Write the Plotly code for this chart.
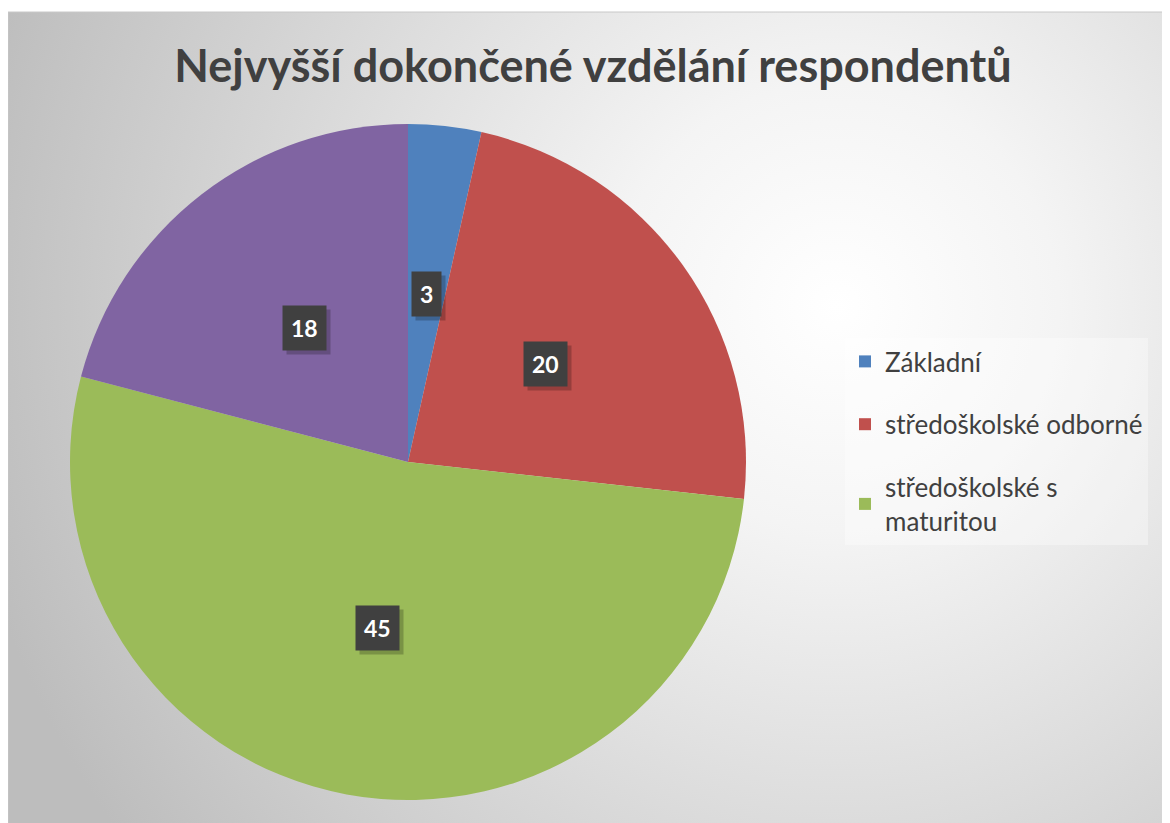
import math
import plotly.graph_objects as go

# Data
categories = ["Základní", "středoškolské odborné", "středoškolské s maturitou", "vysokoškolské"]
values = [3, 20, 45, 18]
legend_labels = ["Základní", "středoškolské odborné", "středoškolské s<br>maturitou"]
colors = ["#4F81BD", "#C0504D", "#9BBB59", "#8064A2"]

# page has an 8px body margin, so the figure is 8px smaller and offset
OFF = 8
W, H = 1170 - OFF, 823 - OFF
FONT = "Lato"
TEXT = "#404040"


def fx(px):
    return (px - OFF) / W


def fy(py):
    return 1 - (py - OFF) / H


# pie placement (reference pixels)
CX, CY, R = 408, 462, 338
dom_x = [fx(CX - R), fx(CX + R)]
dom_y = [fy(CY + R), fy(CY - R)]

bg_svg = (
    "data:image/svg+xml;utf8,"
    "<svg xmlns='http://www.w3.org/2000/svg' width='1162' height='811'>"
    "<defs><radialGradient id='g' gradientUnits='userSpaceOnUse' cx='820' cy='290' r='880'>"
    "<stop offset='0' stop-color='%23ffffff'/>"
    "<stop offset='0.25' stop-color='%23f4f4f4'/>"
    "<stop offset='1' stop-color='%23bdbdbd'/>"
    "</radialGradient></defs>"
    "<rect width='1162' height='811' fill='url(%23g)'/></svg>"
)

fig = go.Figure()

fig.add_trace(go.Pie(
    labels=categories,
    values=values,
    sort=False,
    direction="clockwise",
    rotation=0,
    textinfo="none",
    marker=dict(colors=colors, line=dict(width=0)),
    domain=dict(x=dom_x, y=dom_y),
    showlegend=False,
    hoverinfo="label+value",
))

# legend entries (only first three shown in original)
for lab, col in zip(legend_labels, colors):
    fig.add_trace(go.Scatter(
        x=[None], y=[None],
        mode="markers",
        name=lab,
        legendgroup=lab,
        marker=dict(symbol="square", size=14, color=col),
        hoverinfo="skip",
    ))

# data labels at half radius on the slice mid-angle
total = sum(values)
annotations = []
start = 0.0
for v in values:
    mid = (start + v / 2) / total * 2 * math.pi
    start += v
    px = CX + 0.5 * R * math.sin(mid)
    py = CY - 0.5 * R * math.cos(mid)
    x, y = fx(px), fy(py)
    # soft drop shadow behind the label box
    annotations.append(dict(
        x=x, y=y, xref="paper", yref="paper", xshift=4, yshift=-4,
        xanchor="center", yanchor="middle",
        text=f"<b>{v}</b>", showarrow=False,
        font=dict(family=FONT, size=23, color="rgba(0,0,0,0)"),
        bgcolor="rgba(0,0,0,0.22)", borderpad=8,
    ))
    annotations.append(dict(
        x=x, y=y, xref="paper", yref="paper",
        xanchor="center", yanchor="middle",
        text=f"<b>{v}</b>", showarrow=False,
        font=dict(family=FONT, size=23, color="white"),
        bgcolor="#404040", borderpad=8,
    ))

fig.update_layout(
    width=W, height=H,
    margin=dict(l=0, r=0, t=0, b=0),
    paper_bgcolor="white",
    plot_bgcolor="rgba(0,0,0,0)",
    title=dict(
        text="<b>Nejvyšší dokončené vzdělání respondentů</b>",
        x=fx(593), xanchor="center", y=fy(66), yanchor="middle",
        font=dict(family=FONT, size=45, color=TEXT),
    ),
    xaxis=dict(visible=False),
    yaxis=dict(visible=False),
    legend=dict(
        x=fx(845), xanchor="left", y=fy(338), yanchor="top",
        font=dict(family=FONT, size=26, color=TEXT),
        bgcolor="rgba(255,255,255,0.35)",
        tracegroupgap=26,
        itemsizing="constant",
    ),
    images=[dict(
        source=bg_svg, xref="paper", yref="paper",
        x=fx(8), y=fy(12), sizex=1.01, sizey=1.01,
        xanchor="left", yanchor="top", sizing="stretch", layer="below",
    )],
    shapes=[dict(
        type="rect", xref="paper", yref="paper",
        x0=fx(8), x1=1.01, y0=-0.01, y1=fy(12),
        line=dict(color="#c8c8c8", width=1), fillcolor="rgba(0,0,0,0)",
    )],
    annotations=annotations,
)

fig.write_html("out.html")
